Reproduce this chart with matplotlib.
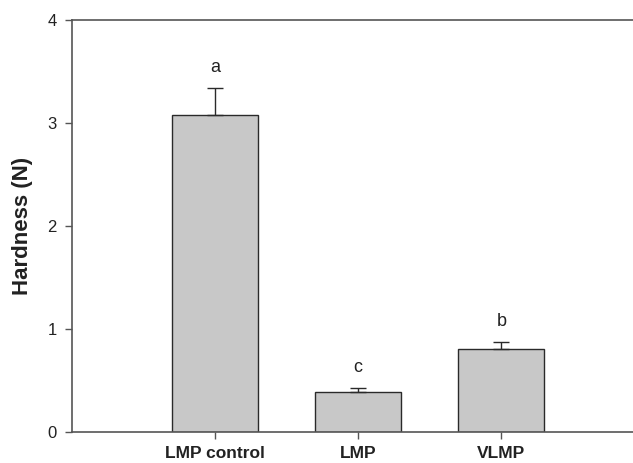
import matplotlib
matplotlib.use("Agg")
import matplotlib.pyplot as plt

categories = ["LMP control", "LMP", "VLMP"]
hardness = [3.08, 0.39, 0.81]
errors = [0.26, 0.04, 0.06]
letters = ["a", "c", "b"]

plt.rcParams['font.family'] = ['Liberation Sans', 'DejaVu Sans']

fig = plt.figure(figsize=(6.33, 4.63), dpi=100)
ax = fig.add_axes([72/633, 31/463, (633-72)/633, 412/463])

pos = [1, 2, 3]
ax.bar(pos, hardness, width=0.6, color="#c8c8c8", edgecolor="#2a2a2a", linewidth=1.0, zorder=2)
ax.errorbar(pos, hardness, yerr=[[0]*3, errors], fmt="none", ecolor="#2a2a2a",
            elinewidth=1.0, capsize=6, capthick=1.0, zorder=3)
for p, h, e, l in zip(pos, hardness, errors, letters):
    ax.text(p, h + e + 0.2, l, ha="center", va="center", fontsize=13, color="#222222")

ax.set_xlim(0, 3.92)
ax.set_ylim(0, 4)
ax.set_yticks([0, 1, 2, 3, 4])
ax.set_xticks(pos)
ax.set_xticklabels(categories, fontweight="bold", fontsize=12.5)
ax.tick_params(axis="y", labelsize=12, direction="out", length=5, width=1, colors="#555555", labelcolor="#222222", pad=6)
ax.tick_params(axis="x", direction="out", length=5, width=1, colors="#555555", labelcolor="#222222", pad=5)
ax.set_ylabel("Hardness (N)", fontsize=16, fontweight="bold", color="#222222", labelpad=10)
for s in ["left", "bottom", "top"]:
    ax.spines[s].set_color("#555555")
    ax.spines[s].set_linewidth(1.2)
ax.spines["right"].set_visible(False)

fig.savefig("out.png", dpi=100)
